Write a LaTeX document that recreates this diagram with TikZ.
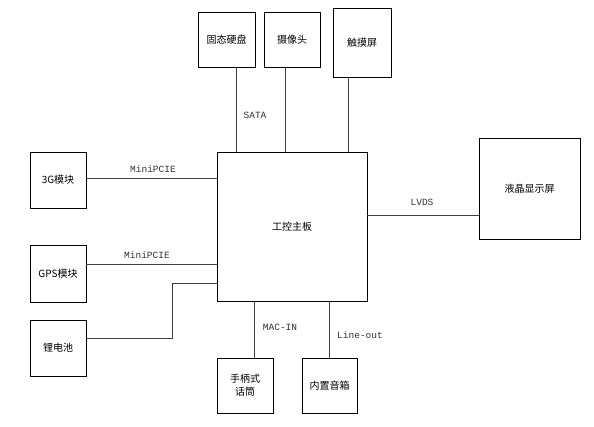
\documentclass[tikz,border=0pt]{standalone}
\usepackage{fontspec}
\setmainfont{Liberation Serif}
\newfontfamily\cjk{Noto Sans CJK SC}
\newfontfamily\lbl{Liberation Mono}
\begin{document}
\begin{tikzpicture}[x=1pt,y=-1pt,
  blk/.style={draw=black,line width=0.8pt,fill=white,inner sep=0pt,font=\cjk\fontsize{10}{13}\selectfont,align=center},
  wire/.style={draw=black!75,line width=0.9pt},
  tag/.style={font=\lbl\fontsize{9.5}{11}\selectfont,inner sep=0pt,text=black!80}]
\useasboundingbox (0,0) rectangle (594,427);
\fill[white] (0,0) rectangle (594,427);
% blocks
\node[blk,minimum width=150pt,minimum height=149pt] (main) at (292,226.5) {工控主板};
\node[blk,minimum width=57pt,minimum height=55pt] (ssd) at (226.5,39.5) {固态硬盘};
\node[blk,minimum width=56pt,minimum height=55pt] (cam) at (292,39.5) {摄像头};
\node[blk,minimum width=58pt,minimum height=69pt] (touch) at (362,42.5) {触摸屏};
\node[blk,minimum width=56pt,minimum height=56pt] (g3) at (58,180) {3G模块};
\node[blk,minimum width=56pt,minimum height=57pt] (gps) at (58,273.5) {GPS模块};
\node[blk,minimum width=56pt,minimum height=56pt] (bat) at (58,348) {锂电池};
\node[blk,minimum width=56pt,minimum height=55pt] (mic) at (245,385.5) {手柄式\\话筒};
\node[blk,minimum width=55pt,minimum height=55pt] (spk) at (329.5,385.5) {内置音箱};
\node[blk,minimum width=101pt,minimum height=101pt] (lcd) at (529.5,188.5) {液晶显示屏};
% connection points
\coordinate (c1) at (172,283);
\coordinate (c2) at (172,338);
% wires
\draw[wire] (ssd.south -| 236,0) -- (main.north -| 236,0);
\draw[wire] (cam.south -| 285,0) -- (main.north -| 285,0);
\draw[wire] (touch.south -| 348,0) -- (main.north -| 348,0);
\draw[wire] (g3.east |- 0,178) -- (main.west |- 0,178);
\draw[wire] (gps.east |- 0,264) -- (main.west |- 0,264);
\draw[wire] (bat.east |- c2) -- (c2) -- (c1) -- (main.west |- c1);
\draw[wire] (main.south -| 254,0) -- (mic.north -| 254,0);
\draw[wire] (main.south -| 329,0) -- (spk.north -| 329,0);
\draw[wire] (main.east |- 0,215) -- (lcd.west |- 0,215);
% labels
\node[tag] (t1) at (255,115) {SATA};
\node[tag] (t2) at (153,169) {MiniPCIE};
\node[tag] (t3) at (147,255) {MiniPCIE};
\node[tag] (t4) at (280,327) {MAC-IN};
\node[tag] (t5) at (360,335) {Line-out};
\node[tag] (t6) at (422,202) {LVDS};
\end{tikzpicture}
\end{document}
